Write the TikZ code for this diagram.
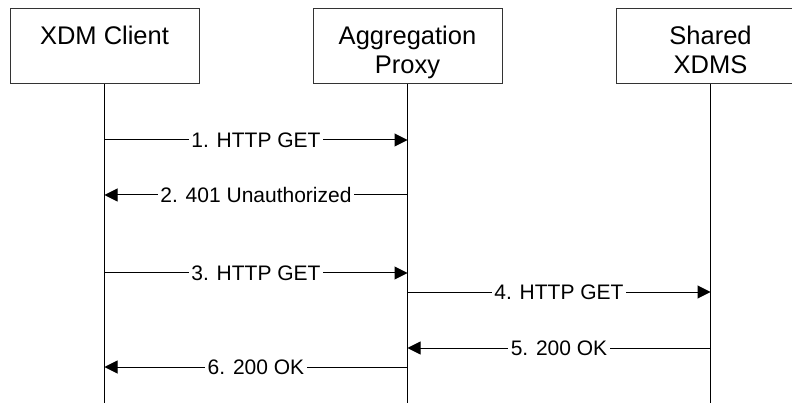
\documentclass[tikz,border=0pt]{standalone}
\usepackage{fontspec}
\setmainfont{Liberation Sans}
\usetikzlibrary{arrows.meta}

\tikzset{
	entity/.style={draw=black!80, line width=1pt, minimum width=189pt, minimum height=75pt,
		align=center, inner sep=0pt, text height=65pt, text depth=10pt,
		font=\fontsize{25.5}{29}\selectfont},
	life/.style={black, line width=1pt},
	msg/.style={black, line width=1pt, -{Triangle[length=13pt,width=13pt]}},
	lbl/.style={fill=white, inner sep=2.5pt, font=\fontsize{21}{24}\selectfont}
}

\begin{document}
\begin{tikzpicture}[x=1pt,y=-1pt]
	\clip (0,0) rectangle (792,403);
	\useasboundingbox (0,0) rectangle (792,403);
	\fill[white] (0,0) rectangle (792,403);

	% entities
	\node[entity] (client) at (104.5,46.5) {XDM Client\\ \mbox{}};
	\node[entity] (proxy) at (407.5,46.5) {Aggregation\\Proxy};
	\node[entity] (xdms) at (710.5,46.5) {Shared\\XDMS};

	% lifelines
	\coordinate (clientend) at (client |- 0,403);
	\coordinate (proxyend) at (proxy |- 0,403);
	\coordinate (xdmsend) at (xdms |- 0,403);
	\draw[life] (client.south) -- (clientend);
	\draw[life] (proxy.south) -- (proxyend);
	\draw[life] (xdms.south) -- (xdmsend);

	% messages
	\draw[msg] (client |- 0,140) -- node[lbl] {1. HTTP GET} (proxy |- 0,140);
	\draw[msg] (proxy |- 0,195) -- node[lbl] {2. 401 Unauthorized} (client |- 0,195);
	\draw[msg] (client |- 0,273) -- node[lbl] {3. HTTP GET} (proxy |- 0,273);
	\draw[msg] (proxy |- 0,292) -- node[lbl] {4. HTTP GET} (xdms |- 0,292);
	\draw[msg] (xdms |- 0,348) -- node[lbl] {5. 200 OK} (proxy |- 0,348);
	\draw[msg] (proxy |- 0,367) -- node[lbl] {6. 200 OK} (client |- 0,367);

\end{tikzpicture}
\end{document}
